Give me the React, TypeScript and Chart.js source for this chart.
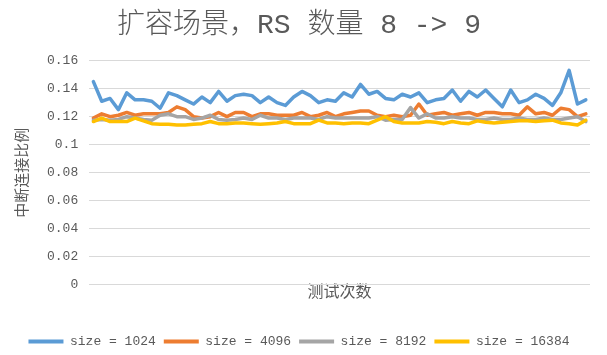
import React, { useEffect, useRef } from "react";
import { Chart, registerables } from "chart.js";

Chart.register(...registerables);

const chartTitle = "扩容场景，RS 数量 8 -> 9";
const xAxisTitle = "测试次数";
const yAxisTitle = "中断连接比例";

const categories: string[] = Array.from({ length: 60 }, (_, i) => String(i + 1));

const yTickValues = [0, 0.02, 0.04, 0.06, 0.08, 0.1, 0.12, 0.14, 0.16];
const yTickLabels = ["0", "0.02", "0.04", "0.06", "0.08", "0.1", "0.12", "0.14", "0.16"];

const seriesNames = ["size = 1024", "size = 4096", "size = 8192", "size = 16384"];
const seriesColors = ["#5B9BD5", "#ED7D31", "#A5A5A5", "#FFC000"];

const size1024 = [
  0.145, 0.131, 0.133, 0.125, 0.137, 0.132, 0.132, 0.131, 0.126, 0.137,
  0.135, 0.132, 0.129, 0.134, 0.130, 0.138, 0.131, 0.135, 0.136, 0.135,
  0.130, 0.134, 0.130, 0.128, 0.134, 0.138, 0.135, 0.130, 0.132, 0.131,
  0.137, 0.134, 0.143, 0.136, 0.138, 0.133, 0.132, 0.136, 0.134, 0.137,
  0.130, 0.132, 0.133, 0.139, 0.131, 0.138, 0.134, 0.139, 0.133, 0.127,
  0.139, 0.130, 0.132, 0.136, 0.133, 0.128, 0.137, 0.153, 0.129, 0.132,
];
const size4096 = [
  0.119, 0.122, 0.120, 0.121, 0.123, 0.121, 0.122, 0.122, 0.122, 0.123,
  0.127, 0.125, 0.120, 0.119, 0.120, 0.123, 0.120, 0.123, 0.123, 0.120,
  0.122, 0.122, 0.121, 0.121, 0.121, 0.123, 0.120, 0.121, 0.123, 0.120,
  0.122, 0.123, 0.124, 0.124, 0.121, 0.120, 0.121, 0.120, 0.121, 0.129,
  0.121, 0.122, 0.123, 0.121, 0.122, 0.123, 0.121, 0.123, 0.123, 0.122,
  0.122, 0.121, 0.127, 0.122, 0.123, 0.121, 0.126, 0.125, 0.120, 0.122,
];
const size8192 = [
  0.1175, 0.118, 0.1175, 0.118, 0.120, 0.119, 0.118, 0.1175, 0.121, 0.122,
  0.120, 0.120, 0.118, 0.119, 0.121, 0.118, 0.1175, 0.118, 0.119, 0.118,
  0.121, 0.119, 0.119, 0.118, 0.119, 0.119, 0.119, 0.118, 0.120, 0.119,
  0.119, 0.119, 0.119, 0.119, 0.120, 0.1175, 0.118, 0.118, 0.1265, 0.119,
  0.122, 0.119, 0.119, 0.120, 0.119, 0.119, 0.118, 0.118, 0.119, 0.118,
  0.118, 0.119, 0.118, 0.118, 0.119, 0.118, 0.118, 0.119, 0.120, 0.1165,
];
const size16384 = [
  0.1165, 0.119, 0.1165, 0.1165, 0.1165, 0.119, 0.117, 0.115, 0.1145, 0.1145,
  0.114, 0.114, 0.1145, 0.115, 0.1165, 0.115, 0.115, 0.1155, 0.1155, 0.115,
  0.1145, 0.115, 0.1155, 0.1165, 0.115, 0.115, 0.115, 0.1175, 0.1155, 0.1155,
  0.115, 0.1155, 0.1155, 0.115, 0.1175, 0.120, 0.1165, 0.1155, 0.1155, 0.1155,
  0.1165, 0.116, 0.115, 0.1165, 0.1155, 0.115, 0.117, 0.116, 0.1155, 0.116,
  0.1165, 0.117, 0.117, 0.1165, 0.117, 0.1175, 0.1155, 0.115, 0.114, 0.1175,
];

const seriesValues = [size1024, size4096, size8192, size16384];

const MONO = '"Liberation Mono", "Noto Sans CJK SC", monospace';
const CJK = '"Noto Sans CJK SC", sans-serif';
const TEXT = "#595959";
const GRID = "#D9D9D9";

export default function App() {
  const canvasRef = useRef<HTMLCanvasElement | null>(null);

  useEffect(() => {
    document.body.style.margin = "0";
    const canvas = canvasRef.current;
    if (!canvas) return;
    const chart = new Chart(canvas, {
      type: "line",
      data: {
        labels: categories,
        datasets: seriesValues.map((vals, i) => ({
          label: seriesNames[i],
          data: vals,
          borderColor: seriesColors[i],
          backgroundColor: seriesColors[i],
          borderWidth: 3.5,
          pointRadius: 0,
          pointHoverRadius: 0,
          tension: 0,
          fill: false,
          borderJoinStyle: "round" as const,
          borderCapStyle: "round" as const,
          order: seriesValues.length - 1 - i,
        })),
      },
      options: {
        responsive: false,
        devicePixelRatio: 1,
        animation: false,
        layout: { padding: { left: 8, right: 17, top: 0, bottom: -3 } },
        plugins: {
          title: {
            display: true,
            text: chartTitle,
            color: TEXT,
            font: { family: MONO, size: 28, weight: "300" },
            padding: { top: 9, bottom: 18 },
          },
          legend: {
            position: "bottom",
            labels: {
              color: TEXT,
              font: { family: MONO, size: 13 },
              boxWidth: 35,
              boxHeight: 4,
              padding: 8,
              sort: (a: any, b: any) => a.datasetIndex - b.datasetIndex,
              generateLabels: (c: any) =>
                (Chart.defaults.plugins.legend.labels.generateLabels as any)(c).map((l: any) => ({
                  ...l,
                  lineWidth: 0,
                })),
            },
          },
          tooltip: { enabled: false },
        },
        scales: {
          x: {
            offset: true,
            grid: { display: false, drawTicks: false },
            border: { display: false },
            ticks: { display: false },
            title: {
              display: true,
              text: xAxisTitle,
              color: TEXT,
              font: { family: CJK, size: 16 },
              padding: { top: -3, bottom: 26 },
            },
          },
          y: {
            min: 0,
            max: 0.16,
            afterBuildTicks: (axis: any) => {
              axis.ticks = yTickValues.map((v) => ({ value: v }));
            },
            grid: { color: GRID, lineWidth: 1, drawTicks: false },
            border: { display: false },
            ticks: {
              color: TEXT,
              font: { family: MONO, size: 13 },
              padding: 11,
              callback: (value: any) => {
                const idx = yTickValues.findIndex((v) => Math.abs(v - Number(value)) < 1e-9);
                return idx >= 0 ? yTickLabels[idx] : "";
              },
            },
            title: {
              display: true,
              text: yAxisTitle,
              color: TEXT,
              font: { family: CJK, size: 15 },
              padding: { top: 4, bottom: 6 },
            },
          },
        },
      },
    });
    return () => chart.destroy();
  }, []);

  return (
    <div style={{ width: 607, height: 355 }}>
      <canvas ref={canvasRef} width={607} height={355} style={{ display: "block" }} />
    </div>
  );
}
